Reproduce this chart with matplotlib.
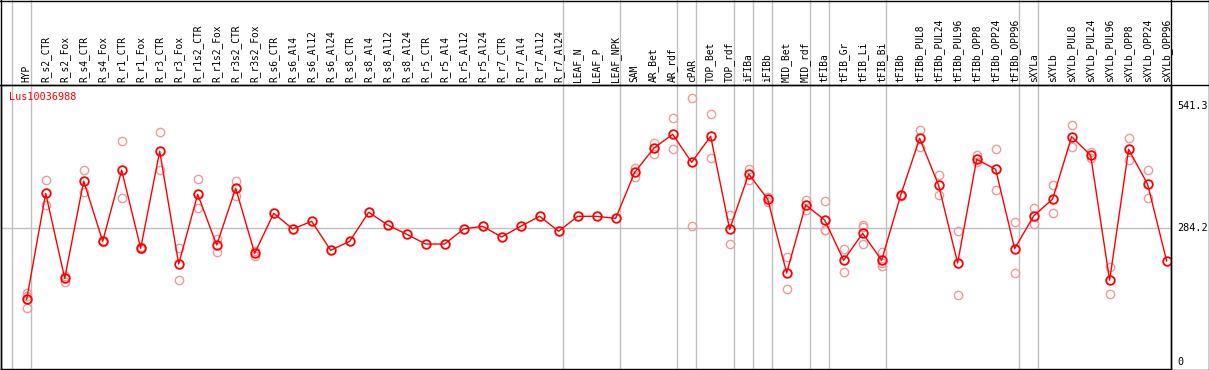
import matplotlib
matplotlib.use("Agg")
import matplotlib.pyplot as plt
from matplotlib.lines import Line2D

categories = ["HYP", "R_s2_CTR", "R_s2_Fox", "R_s4_CTR", "R_s4_Fox", "R_r1_CTR", "R_r1_Fox",
              "R_r3_CTR", "R_r3_Fox", "R_r1s2_CTR", "R_r1s2_Fox", "R_r3s2_CTR", "R_r3s2_Fox",
              "R_s6_CTR", "R_s6_Al4", "R_s6_Al12", "R_s6_Al24", "R_s8_CTR", "R_s8_Al4",
              "R_s8_Al12", "R_s8_Al24", "R_r5_CTR", "R_r5_Al4", "R_r5_Al12", "R_r5_Al24",
              "R_r7_CTR", "R_r7_Al4", "R_r7_Al12", "R_r7_Al24", "LEAF_N", "LEAF_P", "LEAF_NPK",
              "SAM", "AR_Bet", "AR_rdf", "cPAR", "TOP_Bet", "TOP_rdf", "iFIBa", "iFIBb",
              "MID_Bet", "MID_rdf", "tFIBa", "tFIB_Gr", "tFIB_Li", "tFIB_Bi", "tFIBb",
              "tFIBb_PUL8", "tFIBb_PUL24", "tFIBb_PUL96", "tFIBb_OPP8", "tFIBb_OPP24",
              "tFIBb_OPP96", "sXYLa", "sXYLb", "sXYLb_PUL8", "sXYLb_PUL24", "sXYLb_PUL96",
              "sXYLb_OPP8", "sXYLb_OPP24", "sXYLb_OPP96"]

mean_values = [132.3, 357.1, 176.8, 383.2, 255.4, 406.0, 240.5, 446.3, 207.2, 355.0,
               247.5, 367.8, 229.9, 314.8, 281.5, 297.7, 236.3, 255.4, 316.9, 290.0,
               270.3, 249.6, 249.6, 281.5, 287.2, 264.5, 287.2, 308.4, 276.6, 308.4,
               308.3, 304.1, 401.6, 452.6, 482.3, 422.9, 478.1, 280.8, 398.1, 345.1,
               188.1, 332.4, 300.5, 215.1, 272.3, 215.1, 352.9, 473.8, 374.1, 209.3,
               429.2, 408.1, 239.7, 309.0, 345.1, 477.2, 437.8, 172.7, 450.5, 376.3,
               213.6]

replicates = [
    [146.4, 139.0, 113.3], [384.7, 332.3], [181.7, 169.7], [406.6, 360.6], [256.0, 254.0],
    [467.5, 346.6], [243.0, 239.0], [486.6, 406.0], [241.2, 172.7], [387.5, 325.4],
    [261.0, 233.3], [383.2, 351.4], [234.0, 224.0], [], [], [], [], [], [], [],
    [], [], [], [], [], [], [], [], [], [],
    [], [], [410.8, 392.4], [463.2, 440.5], [516.9, 450.5], [558.7, 287.2],
    [524.7, 431.4], [311.1, 249.0], [408.7, 386.0], [350.0, 339.4],
    [221.4, 153.6], [343.0, 321.7], [340.8, 280.0, 279.3], [238.4, 190.9],
    [290.0, 285.0, 249.0], [232.0, 208.7, 203.0], [354.0, 351.0], [490.8, 454.7],
    [396.0, 352.9], [276.6, 141.5], [438.4, 424.2], [450.5, 364.2], [295.7, 188.1],
    [326.0, 291.4], [374.1, 314.8], [501.4, 454.7], [444.8, 431.4], [201.5, 143.0],
    [473.8, 427.2], [406.6, 346.6], []]

group_ends = [-1, 0, 28, 31, 34, 35, 37, 38, 39, 41, 42, 45, 52, 53]
y_ticks = [0, 284.2, 541.3]
gene_label = "Lus10036988"

W, H = 1209, 370
fig = plt.figure(figsize=(W / 100, H / 100), dpi=100)
fig.patch.set_facecolor("white")

ax_l, ax_r, ax_b, ax_t = 1, 1171, 369, 85
ax = fig.add_axes([ax_l / W, (H - ax_b) / H, (ax_r - ax_l) / W, (ax_b - ax_t) / H])
ax.set_xlim(-1.353, 60.23)
ax.set_ylim(-15.5, 586.9)
for s in ax.spines.values():
    s.set_color("black")
    s.set_linewidth(1.0)
ax.set_xticks([])
ax.set_yticks([])

grey = "#c0c0c0"
ax.axhline(284.2, color=grey, lw=1.0, zorder=1)
extra = 1 + (ax_t - 0) / (ax_b - ax_t)
for g in group_ends:
    ax.axvline(g + 0.21, ymin=0, ymax=extra, color=grey, lw=1.0, clip_on=False, zorder=1)

xs = list(range(len(categories)))
rx, ry = [], []
for i, reps in enumerate(replicates):
    for v in reps:
        rx.append(i)
        ry.append(v)
ax.plot(rx, ry, linestyle="none", marker="o", markersize=6.0, markerfacecolor="none",
        markeredgecolor="#f09a9a", markeredgewidth=1.0, zorder=2)
ax.plot(xs, mean_values, color="red", lw=1.0, zorder=3)
ax.plot(xs, mean_values, linestyle="none", marker="o", markersize=6.2, markerfacecolor="none",
        markeredgecolor="red", markeredgewidth=1.3, zorder=4)

mono = "DejaVu Sans Mono"
for i, lab in enumerate(categories):
    ax.text(i, 1 + 2.5 / (ax_b - ax_t), lab, transform=ax.get_xaxis_transform(),
            rotation=90, ha="center", va="bottom", fontsize=6.9, family=mono,
            color="black", clip_on=False)

ax.text(8 / (ax_r - ax_l), 1 - 12 / (ax_b - ax_t), gene_label, transform=ax.transAxes,
        ha="left", va="center", fontsize=7.3, family=mono, color="red")

for v in y_ticks:
    ax.annotate(f"{v:g}", xy=(1, v), xycoords=ax.get_yaxis_transform(),
                xytext=(6, 0), textcoords="offset pixels", ha="left", va="center",
                fontsize=7.3, family=mono, color="black", annotation_clip=False)

# figure frame and header/right separators
def fline(x0, y0, x1, y1):
    fig.add_artist(Line2D([x0 / W, x1 / W], [1 - y0 / H, 1 - y1 / H], color="black",
                          lw=1.0, transform=fig.transFigure))

fline(0, ax_t, W, ax_t)
fline(ax_r, 0, ax_r, H)
fline(0.5, 0, 0.5, H)
fline(0, 0.5, W, 0.5)
fline(W - 0.5, 0, W - 0.5, H)
fline(0, H - 0.5, W, H - 0.5)

fig.savefig("out.png", dpi=100, facecolor="white")
